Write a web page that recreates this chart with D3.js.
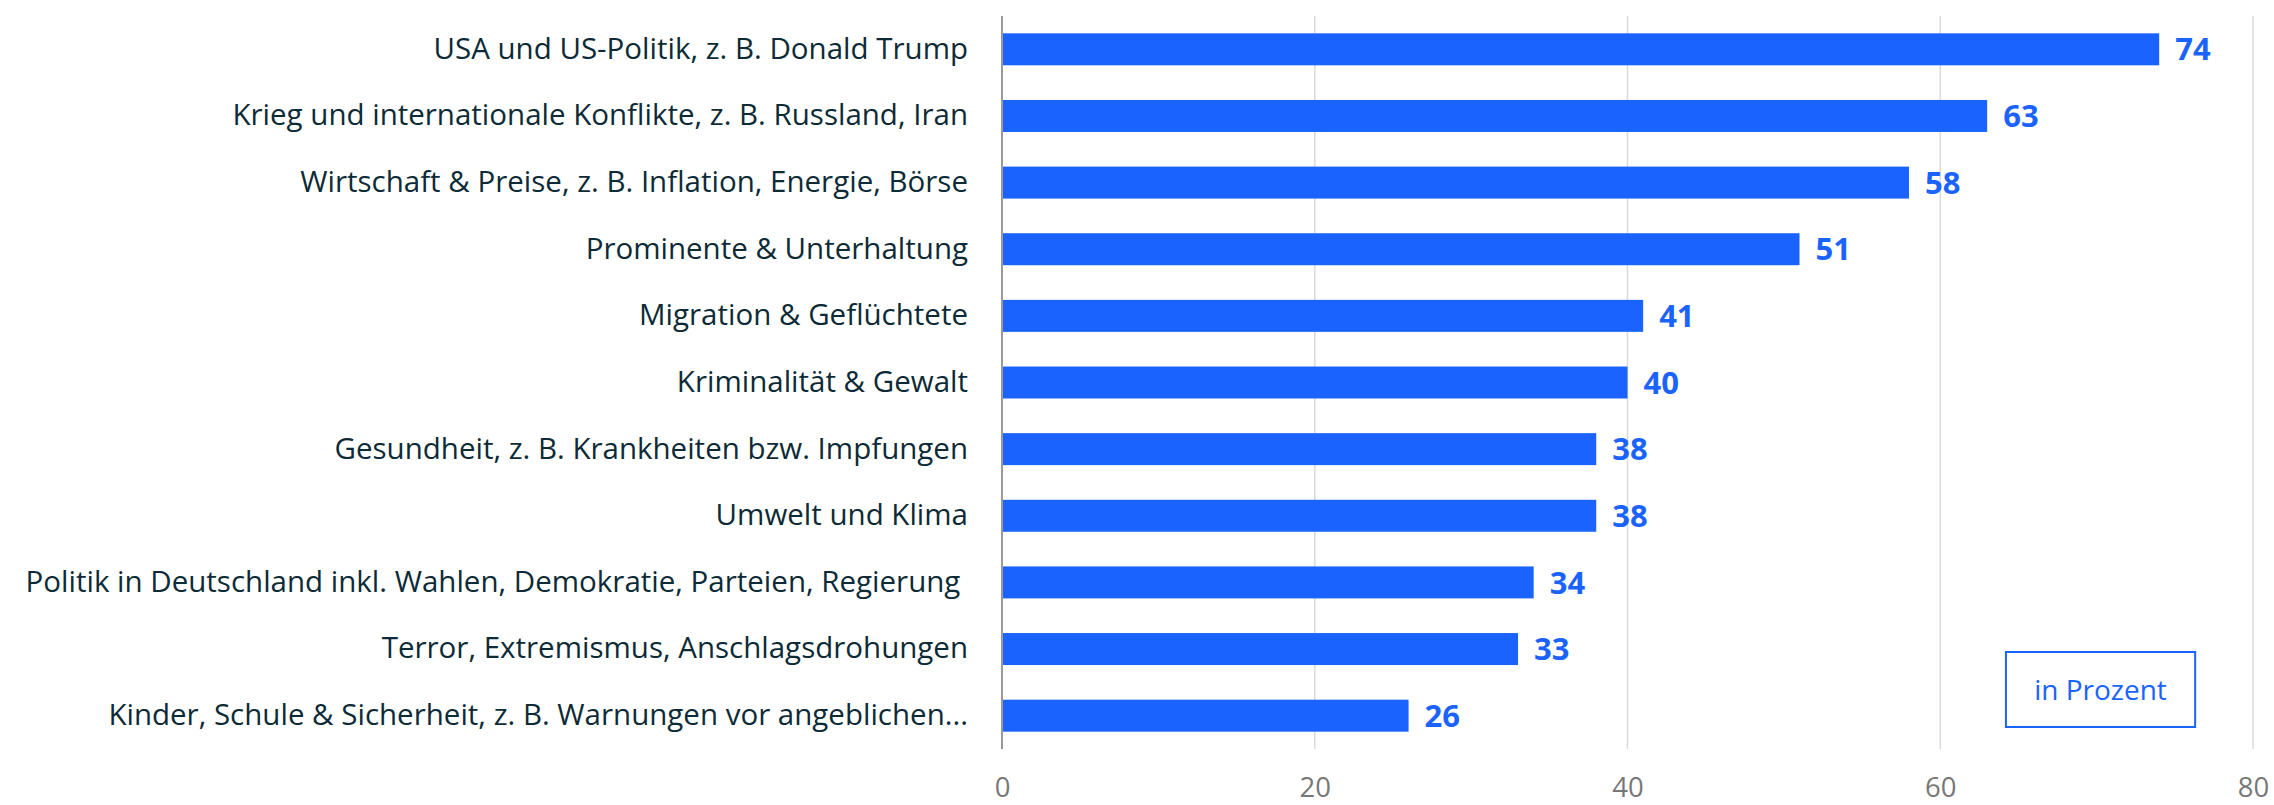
<!DOCTYPE html>
<html><head><meta charset="utf-8">
<script src="https://cdn.jsdelivr.net/npm/d3@7"></script>
<style>body{margin:0;background:#fff;}svg{display:block;}</style>
</head><body>
<svg id="chart" width="2274" height="805"></svg>
<script>
const categories = [
  "USA und US-Politik, z. B. Donald Trump",
  "Krieg und internationale Konflikte, z. B. Russland, Iran",
  "Wirtschaft & Preise, z. B. Inflation, Energie, Börse",
  "Prominente & Unterhaltung",
  "Migration & Geflüchtete",
  "Kriminalität & Gewalt",
  "Gesundheit, z. B. Krankheiten bzw. Impfungen",
  "Umwelt und Klima",
  "Politik in Deutschland inkl. Wahlen, Demokratie, Parteien, Regierung ",
  "Terror, Extremismus, Anschlagsdrohungen",
  "Kinder, Schule & Sicherheit, z. B. Warnungen vor angeblichen..."
];
const values = [74, 63, 58, 51, 41, 40, 38, 38, 34, 33, 26];
const tickValues = [0, 20, 40, 60, 80];
const unitLabel = "in Prozent";

const W = 2274, H = 805;
const margin = {left: 1002, right: 21, top: 16, bottom: 56};
const svg = d3.select("#chart");
const FONT = "'Open Sans', 'Noto Sans', sans-serif";

const x = d3.scaleLinear().domain([0, 80]).range([margin.left, W - margin.right]);
const y = d3.scaleBand().domain(categories).range([margin.top, H - margin.bottom])
  .paddingInner(0.52).paddingOuter(0.26);

// gridlines
svg.append("g").selectAll("line").data(tickValues.filter(d => d > 0)).join("line")
  .attr("x1", d => x(d)).attr("x2", d => x(d))
  .attr("y1", margin.top).attr("y2", H - margin.bottom)
  .attr("stroke", "#dadada").attr("stroke-width", 1.5);

// x axis tick labels
const xAxis = d3.axisBottom(x).tickValues(tickValues).tickSize(0).tickPadding(0);
const gx = svg.append("g").attr("transform", `translate(0,${H - margin.bottom})`).call(xAxis);
gx.select(".domain").remove();
gx.selectAll("text").attr("font-family", FONT).attr("font-size", 27.5)
  .attr("fill", "#777").attr("dy", null).attr("y", 48);

// bars
svg.append("g").selectAll("rect").data(values).join("rect")
  .attr("x", x(0)).attr("y", (d, i) => y(categories[i]))
  .attr("width", d => x(d) - x(0)).attr("height", y.bandwidth())
  .attr("fill", "#1b63ff");

// zero axis line
svg.append("line").attr("x1", x(0)).attr("x2", x(0))
  .attr("y1", margin.top).attr("y2", H - margin.bottom)
  .attr("stroke", "#999").attr("stroke-width", 2);

// y labels
const yAxis = d3.axisLeft(y).tickSize(0).tickPadding(34);
const gy = svg.append("g").attr("transform", `translate(${x(0)},0)`).call(yAxis);
gy.select(".domain").remove();
gy.selectAll("text").attr("font-family", FONT).attr("font-size", 29.5)
  .attr("fill", "#0d2b36").style("white-space", "pre");

// value labels
svg.append("g").selectAll("text").data(values).join("text")
  .attr("x", d => x(d) + 16)
  .attr("y", (d, i) => y(categories[i]) + y.bandwidth() / 2)
  .attr("dy", "0.36em")
  .attr("font-family", FONT).attr("font-weight", "bold").attr("font-size", 31)
  .attr("fill", "#1b63ff").text(d => d);

// unit box
const bx = x(64.2), bw = x(76.3) - x(64.2);
svg.append("rect").attr("x", bx).attr("y", 652).attr("width", bw).attr("height", 75)
  .attr("fill", "#fff").attr("stroke", "#1b63ff").attr("stroke-width", 2);
svg.append("text").attr("x", bx + bw / 2).attr("y", 689.5).attr("dy", "0.36em")
  .attr("text-anchor", "middle").attr("font-family", FONT).attr("font-size", 28)
  .attr("fill", "#1b63ff").text(unitLabel);
</script>
</body></html>
